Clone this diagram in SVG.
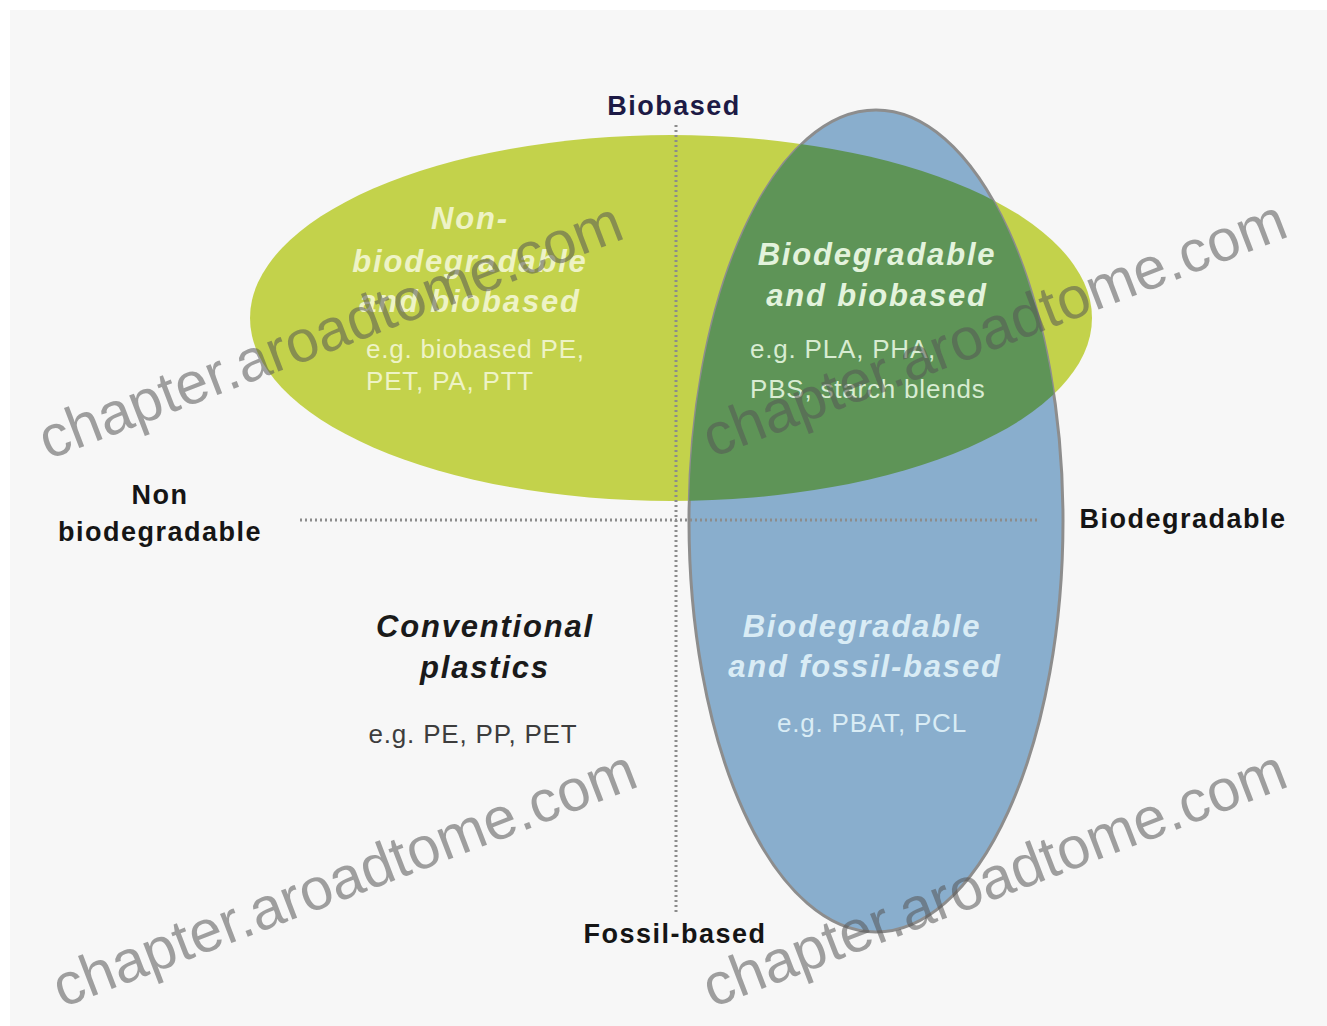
<svg xmlns="http://www.w3.org/2000/svg" width="1327" height="1026" viewBox="0 0 1327 1026">
  <style>
    .axis { font-family: "Liberation Sans", Arial, sans-serif; font-weight: bold; font-size: 27px; letter-spacing: 1.5px; fill: #151515; text-anchor: middle; }
    .title { font-family: "Liberation Sans", Arial, sans-serif; font-weight: bold; font-style: italic; font-size: 31px; letter-spacing: 1.8px; text-anchor: middle; }
    .ex { font-family: "Liberation Sans", Arial, sans-serif; font-size: 26px; letter-spacing: 0.8px; }
    .grid { stroke: #8c8c8c; stroke-width: 3; stroke-dasharray: 2 3; fill: none; }
    .mark { font-family: "Liberation Sans", Arial, sans-serif; font-size: 59px; fill: #555555; fill-opacity: 0.55; }
  </style>
  <defs>
    <clipPath id="greenClip">
      <ellipse cx="671" cy="318" rx="421" ry="183"/>
    </clipPath>
  </defs>

  <rect x="0" y="0" width="1327" height="1026" fill="#ffffff"/>
  <rect x="10" y="10" width="1317" height="1016" fill="#f7f7f7"/>

  <!-- quadrant sets -->
  <g id="set-biobased">
    <ellipse cx="671" cy="318" rx="421" ry="183" fill="#c3d24b"/>
  </g>
  <g id="set-biodegradable">
    <ellipse cx="876" cy="521" rx="187" ry="411" fill="#89aecd" stroke="#8d8d8d" stroke-width="3"/>
  </g>
  <g id="set-overlap">
    <ellipse cx="876" cy="521" rx="187" ry="411" fill="#5e9457" clip-path="url(#greenClip)"/>
  </g>

  <!-- axes -->
  <g id="connectors">
    <line class="grid" x1="676" y1="125" x2="676" y2="915"/>
    <line class="grid" x1="300" y1="520" x2="1040" y2="520"/>
  </g>

  <g id="label-biobased">
    <text class="axis" x="674" y="115" style="fill:#1d1a45">Biobased</text>
  </g>
  <g id="label-fossil">
    <text class="axis" x="675" y="943">Fossil-based</text>
  </g>
  <g id="label-nonbiodeg">
    <text class="axis" x="160" y="504">Non</text>
    <text class="axis" x="160" y="541">biodegradable</text>
  </g>
  <g id="label-biodeg">
    <text class="axis" x="1183" y="528">Biodegradable</text>
  </g>

  <g id="node-nonbiodeg-biobased">
    <text class="title" x="470" y="229" fill="#eef3c6">Non-</text>
    <text class="title" x="470" y="272" fill="#eef3c6">biodegradable</text>
    <text class="title" x="470" y="312" fill="#eef3c6">and biobased</text>
    <text class="ex" x="366" y="358" fill="#eef3c6">e.g. biobased PE,</text>
    <text class="ex" x="366" y="390" fill="#eef3c6">PET, PA, PTT</text>
  </g>

  <g id="node-biodeg-biobased">
    <text class="title" x="877" y="265" fill="#e3f3dc">Biodegradable</text>
    <text class="title" x="877" y="306" fill="#e3f3dc">and biobased</text>
    <text class="ex" x="750" y="358" fill="#d8ecd2">e.g. PLA, PHA,</text>
    <text class="ex" x="750" y="398" fill="#d8ecd2">PBS, starch blends</text>
  </g>

  <g id="node-conventional">
    <text class="title" x="485" y="637" fill="#1a1a1a">Conventional</text>
    <text class="title" x="485" y="678" fill="#1a1a1a">plastics</text>
    <text class="ex" x="473" y="743" fill="#3d3d3d" text-anchor="middle">e.g. PE, PP, PET</text>
  </g>

  <g id="node-biodeg-fossil">
    <text class="title" x="862" y="637" fill="#d9ecf5">Biodegradable</text>
    <text class="title" x="865" y="677" fill="#d9ecf5">and fossil-based</text>
    <text class="ex" x="872" y="732" fill="#d9ecf5" text-anchor="middle">e.g. PBAT, PCL</text>
  </g>

  <!-- site marks -->
  <g id="site-marks">
    <text class="mark" transform="translate(48,460) rotate(-21)">chapter.aroadtome.com</text>
    <text class="mark" transform="translate(712,458) rotate(-21)">chapter.aroadtome.com</text>
    <text class="mark" transform="translate(62,1008) rotate(-21)">chapter.aroadtome.com</text>
    <text class="mark" transform="translate(712,1008) rotate(-21)">chapter.aroadtome.com</text>
  </g>
</svg>
